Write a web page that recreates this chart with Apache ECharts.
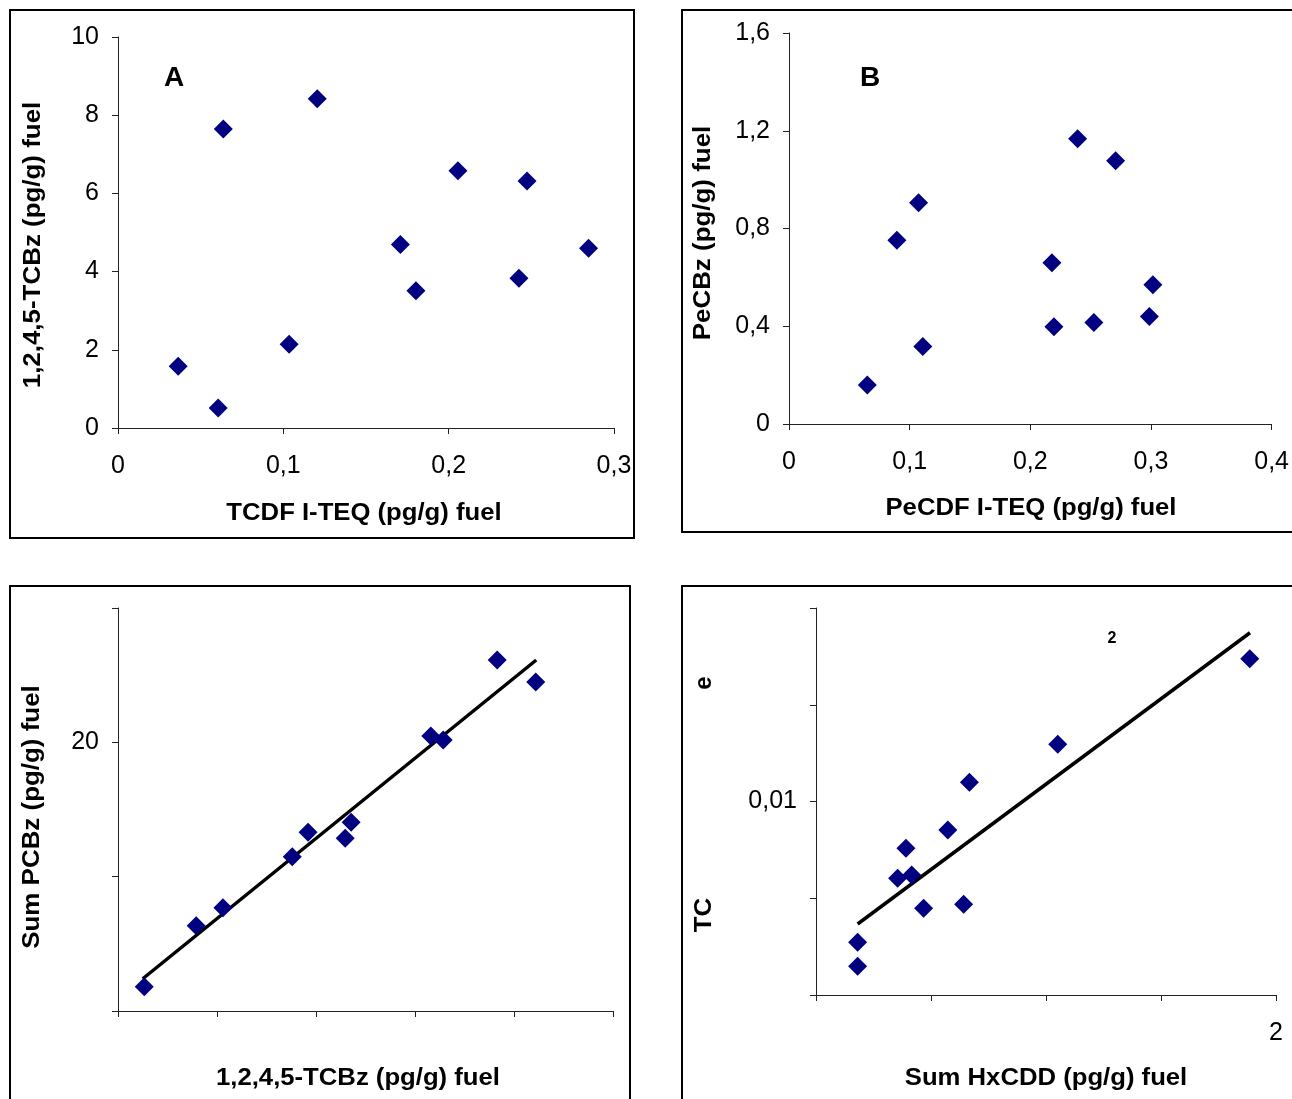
<!DOCTYPE html>
<html>
<head>
<meta charset="utf-8">
<script src="https://cdn.jsdelivr.net/npm/echarts@6/dist/echarts.min.js"></script>
<style>
html,body{margin:0;padding:0;background:#fff;}
#chart{width:1292px;height:1099px;}
</style>
</head>
<body>
<div id="chart"></div>
<script>
// Panel A: TCDF I-TEQ vs 1,2,4,5-TCBz
var aX = [0.0364, 0.0606, 0.0637, 0.1035, 0.1205, 0.1708, 0.1802, 0.2056, 0.2425, 0.2474, 0.2846];
var aY = [1.58, 0.51, 7.65, 2.14, 8.42, 4.69, 3.51, 6.58, 3.83, 6.32, 4.60];
// Panel B: PeCDF I-TEQ vs PeCBz
var bX = [0.0649, 0.0894, 0.1074, 0.1109, 0.2179, 0.2196, 0.2392, 0.2527, 0.2707, 0.2987, 0.3016];
var bY = [0.160, 0.752, 0.905, 0.317, 0.660, 0.398, 1.167, 0.415, 1.077, 0.440, 0.570];
// Panel C: 1,2,4,5-TCBz vs Sum PCBz
var cX = [0.53, 1.58, 2.12, 3.52, 3.84, 4.59, 4.71, 6.32, 6.57, 7.66, 8.44];
var cY = [1.81, 6.35, 7.69, 11.49, 13.30, 12.86, 14.05, 20.47, 20.17, 26.13, 24.49];
var cTrendX = [0.50, 8.45];
var cTrendY = [2.40, 26.13];
// Panel D: Sum HxCDD vs TC..e
var dX = [0.181, 0.181, 0.355, 0.416, 0.391, 0.468, 0.573, 0.642, 0.667, 1.051, 1.886];
var dY = [0.00148, 0.00272, 0.00603, 0.00620, 0.00758, 0.00448, 0.00853, 0.00469, 0.01099, 0.01296, 0.01738];
var dTrendX = [0.181, 1.887];
var dTrendY = [0.00367, 0.01872];
// Tick labels that are visible
var cYShown = [20];
var cXShown = [];
var dYShown = [0.01];
var dXShown = [2];

function pairs(xs, ys){ return xs.map(function(x,i){ return [x, ys[i]]; }); }
function comma(v){ return String(+v.toFixed(6)).replace('.', ','); }
function onlyShown(list){
  return function(v){
    for (var i=0;i<list.length;i++){ if (Math.abs(v-list[i]) < 1e-9) return comma(v); }
    return '';
  };
}

var FONT = '"Liberation Sans", Arial, sans-serif';
var NAVY = '#000080';

function xAxisDef(idx, min, max, interval, fmt){
  return {
    type:'value', gridIndex: idx, min:min, max:max, interval:interval,
    splitLine:{show:false},
    axisLine:{show:true, onZero:false, lineStyle:{color:'#222', width:1}},
    axisTick:{show:true, inside:false, length:6, lineStyle:{color:'#222', width:1}},
    axisLabel:{show:true, formatter: fmt || comma, color:'#000', fontSize:25, fontFamily:FONT, margin:26}
  };
}
function yAxisDef(idx, min, max, interval, fmt){
  return {
    type:'value', gridIndex: idx, min:min, max:max, interval:interval,
    splitLine:{show:false},
    axisLine:{show:true, onZero:false, lineStyle:{color:'#222', width:1}},
    axisTick:{show:true, inside:false, length:6, lineStyle:{color:'#222', width:1}},
    axisLabel:{show:true, formatter: fmt || comma, color:'#000', fontSize:25, fontFamily:FONT, margin:19}
  };
}
function scatter(idx, xs, ys){
  return {type:'scatter', xAxisIndex:idx, yAxisIndex:idx, data:pairs(xs, ys), symbol:'diamond', symbolSize:19,
    itemStyle:{color:NAVY, opacity:1}, silent:true, z:3};
}
function trend(idx, xs, ys){
  return {type:'line', xAxisIndex:idx, yAxisIndex:idx, data:pairs(xs, ys), symbol:'none',
    lineStyle:{color:'#000', width:3.5}, silent:true, z:2};
}

function vText(txt, x, y, size, sx){
  return {type:'text', x:x, y:y, rotation:Math.PI/2, scaleX: sx || 1,
    style:{text:txt, x:0, y:0, textAlign:'center', textVerticalAlign:'middle', font:'bold '+size+'px '+FONT, fill:'#000'}};
}
function hText(txt, x, y, size, sx){
  return {type:'text', x:x, y:y, scaleX: sx || 1,
    style:{text:txt, x:0, y:0, textAlign:'center', textVerticalAlign:'middle', font:'bold '+size+'px '+FONT, fill:'#000'}};
}
function box(x, y, w, h){
  return {type:'rect', shape:{x:x, y:y, width:w, height:h}, style:{fill:null, stroke:'#000', lineWidth:2}, z:-1};
}

var chart = echarts.init(document.getElementById('chart'), null, {renderer:'canvas'});
chart.setOption({
  animation:false,
  backgroundColor:'#fff',
  grid:[
    {left:118, top:37, width:496, height:391},
    {left:789, top:33, width:486, height:391},
    {left:118, top:608, width:495, height:403},
    {left:816, top:608, width:460, height:387}
  ],
  xAxis:[
    xAxisDef(0, 0, 0.3, 0.1),
    xAxisDef(1, 0, 0.4, 0.1),
    xAxisDef(2, 0, 10, 2, onlyShown(cXShown)),
    xAxisDef(3, 0, 2, 0.5, onlyShown(dXShown))
  ],
  yAxis:[
    yAxisDef(0, 0, 10, 2),
    yAxisDef(1, 0, 1.6, 0.4),
    yAxisDef(2, 0, 30, 10, onlyShown(cYShown)),
    yAxisDef(3, 0, 0.02, 0.005, onlyShown(dYShown))
  ],
  series:[
    scatter(0, aX, aY),
    scatter(1, bX, bY),
    trend(2, cTrendX, cTrendY),
    scatter(2, cX, cY),
    trend(3, dTrendX, dTrendY),
    scatter(3, dX, dY)
  ],
  graphic:[
    box(10, 10, 624, 528),
    box(682, 10, 640, 522),
    box(10, 586, 620, 540),
    box(682, 586, 640, 540),
    hText('A', 174, 78, 28),
    hText('B', 870, 78, 28),
    vText('1,2,4,5-TCBz (pg/g) fuel', 33, 245, 24, 1.08),
    hText('TCDF I-TEQ (pg/g) fuel', 364, 513, 24, 1.07),
    vText('PeCBz (pg/g) fuel', 703, 233, 24, 1.08),
    hText('PeCDF I-TEQ (pg/g) fuel', 1031, 508, 24, 1.07),
    vText('Sum PCBz (pg/g) fuel', 32, 817, 24, 1.08),
    hText('1,2,4,5-TCBz (pg/g) fuel', 358, 1078, 24, 1.07),
    vText('TC', 704, 915, 24, 1.08),
    vText('e', 704, 683, 24),
    hText('Sum HxCDD (pg/g) fuel', 1046, 1078, 24, 1.07),
    hText('2', 1112, 639, 16)
  ]
});
</script>
</body>
</html>
